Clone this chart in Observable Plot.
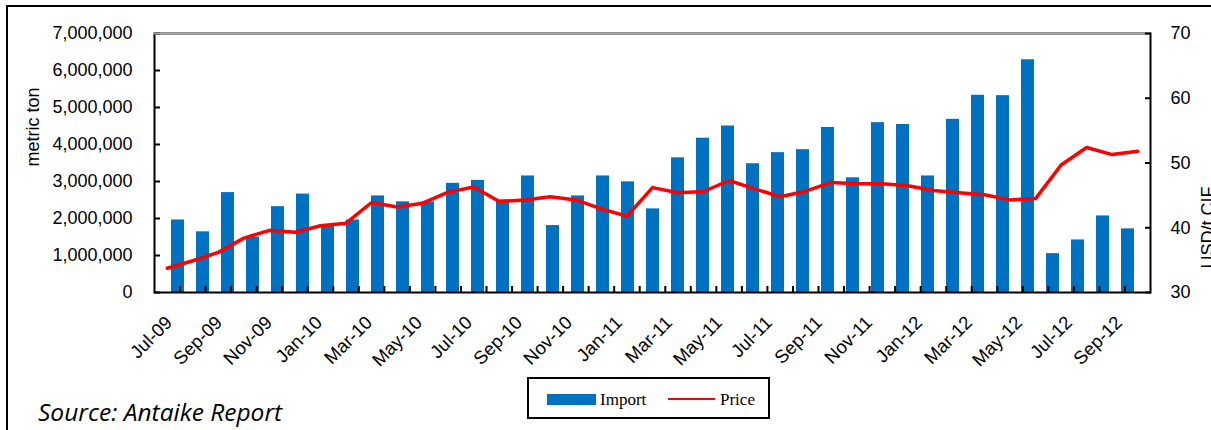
<!DOCTYPE html>
<html>
<head>
<meta charset="utf-8">
<script src="https://cdn.jsdelivr.net/npm/d3@7"></script>
<script src="https://cdn.jsdelivr.net/npm/@observablehq/plot@0.6"></script>
<style>
  html, body { margin: 0; padding: 0; background: #fff; overflow: hidden; }
  #wrap { position: relative; width: 1211px; height: 430px; overflow: hidden; background: #fff; }
  #wrap svg { position: absolute; left: 0; top: 0; }
  #border { position: absolute; left: 6px; top: 5px; width: 1400px; height: 600px;
            border-left: 2px solid #000; border-top: 2px solid #000; }
  #legend { position: absolute; left: 527px; top: 377px; width: 239px; height: 38px;
            border: 2px solid #000; background: #fff;
            font-family: "Liberation Serif", "Times New Roman", serif; font-size: 17px; color: #000; }
  #legend .sw { position: absolute; left: 18px; top: 15px; width: 49px; height: 11px; background: #0070C0; }
  #legend .ln { position: absolute; left: 139px; top: 18.5px; width: 47px; height: 2.6px; background: #FF0000; }
  #legend .t { position: absolute; top: 11px; line-height: 20px; white-space: nowrap; }
  #source { position: absolute; left: 38px; top: 397px; line-height: 30px; white-space: nowrap;
            font-family: "Open Sans", "Liberation Sans", sans-serif; font-style: italic; font-size: 24.5px; color: #000; }
</style>
</head>
<body>
<div id="wrap">
  <div id="border"></div>
  <div id="legend">
    <div class="sw"></div><div class="t" style="left:71px">Import</div>
    <div class="ln"></div><div class="t" style="left:191px">Price</div>
  </div>
  <div id="source">Source: Antaike Report</div>
</div>
<script>
// ---- data ----
const months = ["Jul-09","Aug-09","Sep-09","Oct-09","Nov-09","Dec-09",
  "Jan-10","Feb-10","Mar-10","Apr-10","May-10","Jun-10","Jul-10","Aug-10","Sep-10","Oct-10","Nov-10","Dec-10",
  "Jan-11","Feb-11","Mar-11","Apr-11","May-11","Jun-11","Jul-11","Aug-11","Sep-11","Oct-11","Nov-11","Dec-11",
  "Jan-12","Feb-12","Mar-12","Apr-12","May-12","Jun-12","Jul-12","Aug-12","Sep-12"];
const imports = [1960000,1640000,2700000,1500000,2320000,2660000,
  1810000,1960000,2610000,2450000,2450000,2950000,3030000,2500000,3150000,1810000,2610000,3150000,
  2990000,2260000,3640000,4170000,4500000,3480000,3780000,3860000,4460000,3100000,4590000,4540000,
  3150000,4680000,5330000,5320000,6290000,1050000,1420000,2070000,1720000];
const prices = [33.75,34.9,36.2,38.4,39.6,39.3,
  40.3,40.7,43.9,43.2,43.8,45.5,46.3,44.05,44.3,44.8,44.3,42.9,
  41.8,46.2,45.4,45.6,47.3,46.0,44.8,45.65,47.0,46.8,46.8,46.5,
  45.75,45.4,45.1,44.3,44.5,49.7,52.4,51.3,51.8];
const importTicks = [0,1000000,2000000,3000000,4000000,5000000,6000000,7000000];
const priceTicks = [30,40,50,60,70];
const xTickLabels = months.filter((m, i) => i % 2 === 0);
const boundaries = months.slice(1).map((m, i) => i + 0.5);

const data = months.map((m, i) => ({month: m, index: i, imports: imports[i], price: prices[i]}));

// ---- layout ----
const W = 1211, H = 380;
const common = {
  width: W, height: H, marginLeft: 154, marginRight: 61, marginTop: 33, marginBottom: H - 292,
  style: {fontFamily: '"Liberation Sans", Arial, sans-serif', fontSize: "18px", color: "#000",
          background: "transparent", overflow: "visible"}
};

const p1 = Plot.plot({
  ...common,
  x: {type: "band", domain: months, paddingInner: 0.5, paddingOuter: 0.25, label: null},
  y: {domain: [0, 7000000], label: null},
  marks: [
    Plot.barY(data, {x: "month", y: "imports", fill: "#0070C0"}),
    Plot.axisY(importTicks, {tickSize: 6, dx: 6, tickFormat: () => "", strokeWidth: 2, label: null}),
    Plot.axisY(importTicks, {tickSize: 0, tickPadding: 22, tickFormat: d3.format(","), fontSize: 18, label: null}),
    Plot.axisX(xTickLabels, {tickSize: 0, tickPadding: 22, tickRotate: -45, textAnchor: "end", lineAnchor: "top",
                             fontSize: 18.5, dx: -14, label: null}),
    Plot.text(["metric ton"], {text: d => d, frameAnchor: "left", rotate: -90, dx: -121, dy: 3.5, fontSize: 18})
  ]
});

const p2 = Plot.plot({
  ...common,
  x: {type: "linear", domain: [-0.5, months.length - 0.5], label: null},
  y: {domain: [30, 70], label: null},
  marks: [
    Plot.frame({stroke: "#000", strokeWidth: 2}),
    Plot.ruleY([70], {stroke: "#a6a6a6", strokeWidth: 2}),
    Plot.axisX(boundaries, {tickSize: 6, dy: -6, tickFormat: () => "", strokeWidth: 2, label: null}),
    Plot.axisY(priceTicks, {anchor: "right", tickSize: 6, dx: -6, tickFormat: () => "", strokeWidth: 2, label: null}),
    Plot.axisY(priceTicks, {anchor: "right", tickSize: 0, tickPadding: 20, fontSize: 18, label: null}),
    Plot.line(data, {x: "index", y: "price", stroke: "#FF0000", strokeWidth: 3.5}),
    Plot.text(["USD/t CIF"], {text: d => d, frameAnchor: "right", rotate: -90, dx: 58, dy: 23.5, fontSize: 18})
  ]
});

const wrap = document.getElementById("wrap");
wrap.insertBefore(p1, wrap.firstChild.nextSibling);
wrap.insertBefore(p2, p1.nextSibling);
</script>
</body>
</html>
